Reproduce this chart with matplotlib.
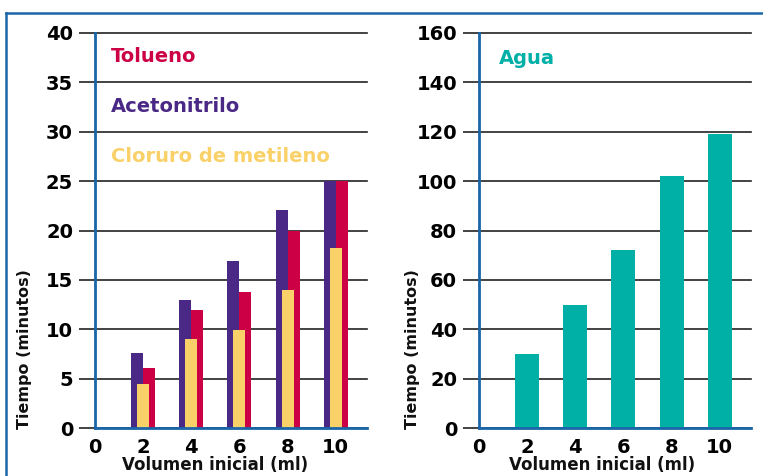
import matplotlib
matplotlib.use("Agg")
import matplotlib.pyplot as plt
from matplotlib.lines import Line2D

# Data
volumes = [2, 4, 6, 8, 10]
acetonitrilo = [7.6, 13.0, 16.9, 22.1, 25.0]
tolueno = [6.1, 12.0, 13.8, 20.0, 25.0]
cloruro = [4.5, 9.0, 9.9, 14.0, 18.2]
agua = [30, 50, 72, 102, 119]
xticks = [0, 2, 4, 6, 8, 10]
left_yticks = [0, 5, 10, 15, 20, 25, 30, 35, 40]
right_yticks = [0, 20, 40, 60, 80, 100, 120, 140, 160]

C_PURPLE = "#4A2885"
C_RED = "#CC0044"
C_YELLOW = "#F9D168"
C_TEAL = "#00B0A6"
C_BLUE = "#1A66A8"
C_GRID = "#222222"

W, H = 763, 476
fig = plt.figure(figsize=(W / 100, H / 100), dpi=100)
plt.rcParams['font.family'] = ['DejaVu Sans']


def px(x0, y0, x1, y1):
    return [x0 / W, 1 - y1 / H, (x1 - x0) / W, (y1 - y0) / H]


def style(ax, yticks):
    ax.set_xlim(0, 11.3)
    ax.set_ylim(yticks[0], yticks[-1])
    ax.set_yticks(yticks)
    ax.set_xticks(xticks)
    ax.set_xticklabels([str(v) for v in xticks])
    for s in ("top", "right"):
        ax.spines[s].set_visible(False)
    for s in ("left", "bottom"):
        ax.spines[s].set_color(C_BLUE)
        ax.spines[s].set_linewidth(2.0)
        ax.spines[s].set_zorder(5)
    ax.set_axisbelow(True)
    ax.yaxis.grid(True, color=C_GRID, linewidth=1.2)
    for gl in ax.yaxis.get_gridlines():
        gl.set_clip_on(False)
    ax.tick_params(axis="y", length=11.5, width=1.2, color=C_GRID, pad=4.3,
                   labelsize=14, labelcolor="#000000")
    ax.tick_params(axis="x", length=0, pad=7, labelsize=14, labelcolor="#000000")
    for lab in ax.get_xticklabels() + ax.get_yticklabels():
        lab.set_fontweight("heavy")


# Left panel
ax1 = fig.add_axes(px(95, 33, 367, 428))
style(ax1, left_yticks)
bw = 0.5
ax1.bar([v - 0.25 for v in volumes], acetonitrilo, width=bw, color=C_PURPLE, zorder=2)
ax1.bar([v + 0.25 for v in volumes], tolueno, width=bw, color=C_RED, zorder=2)
ax1.bar(volumes, cloruro, width=bw, color=C_YELLOW, zorder=3)

# Right panel
ax2 = fig.add_axes(px(479, 33, 751, 428))
style(ax2, right_yticks)
ax2.bar(volumes, agua, width=1.0, color=C_TEAL, zorder=2)

# Series labels
fig.text(111 / W, 1 - 57 / H, "Tolueno", color=C_RED, fontsize=14,
         fontweight="bold", ha="left", va="center")
fig.text(111 / W, 1 - 107 / H, "Acetonitrilo", color=C_PURPLE, fontsize=14,
         fontweight="bold", ha="left", va="center")
fig.text(111 / W, 1 - 157 / H, "Cloruro de metileno", color=C_YELLOW, fontsize=14,
         fontweight="bold", ha="left", va="center")
fig.text(499 / W, 1 - 58 / H, "Agua", color=C_TEAL, fontsize=14,
         fontweight="bold", ha="left", va="center")

# Axis titles
for xc, xl in ((25, 215), (413, 602)):
    fig.text(xc / W, 1 - 349 / H, "Tiempo (minutos)", rotation=90, fontsize=11.5,
             fontweight="bold", ha="center", va="center", color="#111111")
    fig.text(xl / W, 1 - 465 / H, "Volumen inicial (ml)", fontsize=12,
             fontweight="bold", ha="center", va="center", color="#111111")

# Frame
fig.add_artist(Line2D([6 / W, 1.0], [1 - 13 / H, 1 - 13 / H], color=C_BLUE,
                      linewidth=1.8, transform=fig.transFigure))
fig.add_artist(Line2D([6 / W, 6 / W], [1 - 13 / H, 0], color=C_BLUE,
                      linewidth=1.8, transform=fig.transFigure))

fig.savefig("out.png", dpi=100)
